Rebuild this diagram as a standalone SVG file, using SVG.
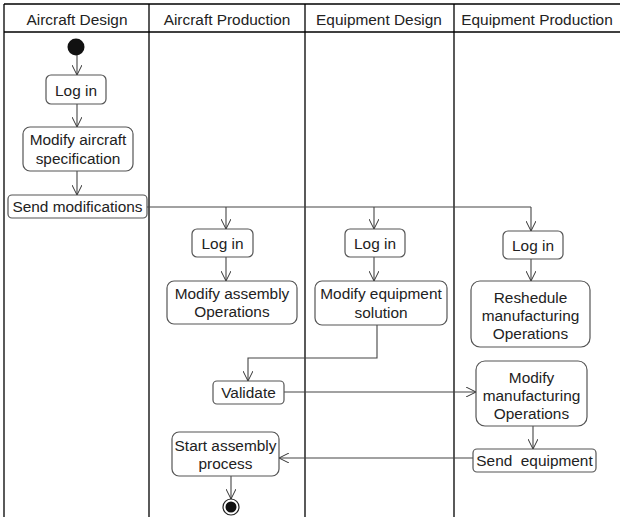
<svg xmlns="http://www.w3.org/2000/svg" width="620" height="517" viewBox="0 0 620 517">
<defs>
<marker id="arr" viewBox="0 0 10 10" refX="10" refY="5" markerWidth="10" markerHeight="10" markerUnits="userSpaceOnUse" orient="auto">
<path d="M0,0 L10,5 L0,10" fill="none" stroke="#333" stroke-width="1"/>
</marker>
</defs>
<style>
text{font-family:"Liberation Sans",Arial,sans-serif;font-size:15.4px;fill:#222;text-anchor:middle}
.lane{stroke:#000;stroke-width:1.3;fill:none}
.box{fill:#fff;stroke:#555;stroke-width:1.2}
.con{fill:none;stroke:#444;stroke-width:1.1}
.arr{marker-end:url(#arr)}
</style>
<rect width="620" height="517" fill="#fff"/>
<g id="lanes">
<line class="lane" x1="4" y1="4" x2="620" y2="4"/>
<line class="lane" x1="4" y1="32" x2="620" y2="32"/>
<line class="lane" x1="4" y1="4" x2="4" y2="517"/>
<line class="lane" x1="149" y1="4" x2="149" y2="517"/>
<line class="lane" x1="305" y1="4" x2="305" y2="517"/>
<line class="lane" x1="454" y1="4" x2="454" y2="517"/>
<text x="77" y="25">Aircraft Design</text>
<text x="227" y="25">Aircraft Production</text>
<text x="379" y="25">Equipment Design</text>
<text x="537" y="25">Equipment Production</text>
</g>
<g id="connectors">
<line class="con arr" x1="77" y1="55" x2="77" y2="75"/>
<line class="con arr" x1="77" y1="104" x2="77" y2="127"/>
<line class="con arr" x1="77" y1="171" x2="77" y2="195"/>
<polyline class="con" points="147,207 531,207"/>
<line class="con arr" x1="226" y1="207" x2="226" y2="229"/>
<line class="con arr" x1="374" y1="207" x2="374" y2="229"/>
<line class="con arr" x1="531" y1="207" x2="531" y2="231"/>
<line class="con arr" x1="226" y1="257" x2="226" y2="281"/>
<line class="con arr" x1="374" y1="257" x2="374" y2="281"/>
<line class="con arr" x1="531" y1="259" x2="531" y2="281"/>
<polyline class="con arr" points="377,325 377,358 248,358 248,381"/>
<line class="con arr" x1="284" y1="392" x2="476" y2="392"/>
<line class="con arr" x1="533" y1="426" x2="533" y2="449"/>
<line class="con arr" x1="473" y1="458" x2="279" y2="458"/>
<line class="con arr" x1="231" y1="476" x2="231" y2="499"/>
</g>
<g id="start"><circle cx="76" cy="47" r="8.5" fill="#111"/></g>
<g id="login-ad"><rect class="box" x="46" y="75" width="60" height="29" rx="5"/><text x="76" y="95.5">Log in</text></g>
<g id="modify-aircraft"><rect class="box" x="23" y="127" width="110" height="44" rx="7"/><text x="78" y="145">Modify aircraft</text><text x="78" y="163.5">specification</text></g>
<g id="send-mod"><rect class="box" x="8" y="195" width="139" height="23" rx="4"/><text x="77.5" y="212">Send modifications</text></g>
<g id="login-ap"><rect class="box" x="192" y="229" width="61" height="28" rx="5"/><text x="222.5" y="248.5">Log in</text></g>
<g id="modify-assembly"><rect class="box" x="167" y="281" width="130" height="43" rx="7"/><text x="232" y="298.5">Modify assembly</text><text x="232" y="317">Operations</text></g>
<g id="login-ed"><rect class="box" x="345" y="229" width="60" height="28" rx="5"/><text x="375" y="249">Log in</text></g>
<g id="modify-equipment"><rect class="box" x="315" y="281" width="132" height="44" rx="7"/><text x="381" y="299">Modify equipment</text><text x="381" y="317.5">solution</text></g>
<g id="login-ep"><rect class="box" x="503" y="231" width="60" height="28" rx="5"/><text x="533" y="251">Log in</text></g>
<g id="reshedule"><rect class="box" x="471" y="281" width="119" height="66" rx="9"/><text x="530.5" y="302.5">Reshedule</text><text x="530.5" y="320.5">manufacturing</text><text x="530.5" y="338.5">Operations</text></g>
<g id="validate"><rect class="box" x="213" y="381" width="71" height="23" rx="4"/><text x="248.5" y="398">Validate</text></g>
<g id="modify-manufacturing"><rect class="box" x="476" y="361" width="111" height="65" rx="9"/><text x="531.5" y="382.5">Modify</text><text x="531.5" y="400.5">manufacturing</text><text x="531.5" y="418.5">Operations</text></g>
<g id="send-equipment"><rect class="box" x="473" y="449" width="123" height="23" rx="4"/><text x="534.5" y="466" xml:space="preserve">Send  equipment</text></g>
<g id="start-assembly"><rect class="box" x="172" y="432" width="107" height="44" rx="7"/><text x="225.5" y="450.5">Start assembly</text><text x="225.5" y="469">process</text></g>
<g id="end"><circle cx="231" cy="507" r="8" fill="#fff" stroke="#222" stroke-width="1.2"/><circle cx="231" cy="507" r="5.5" fill="#111"/></g>
</svg>
